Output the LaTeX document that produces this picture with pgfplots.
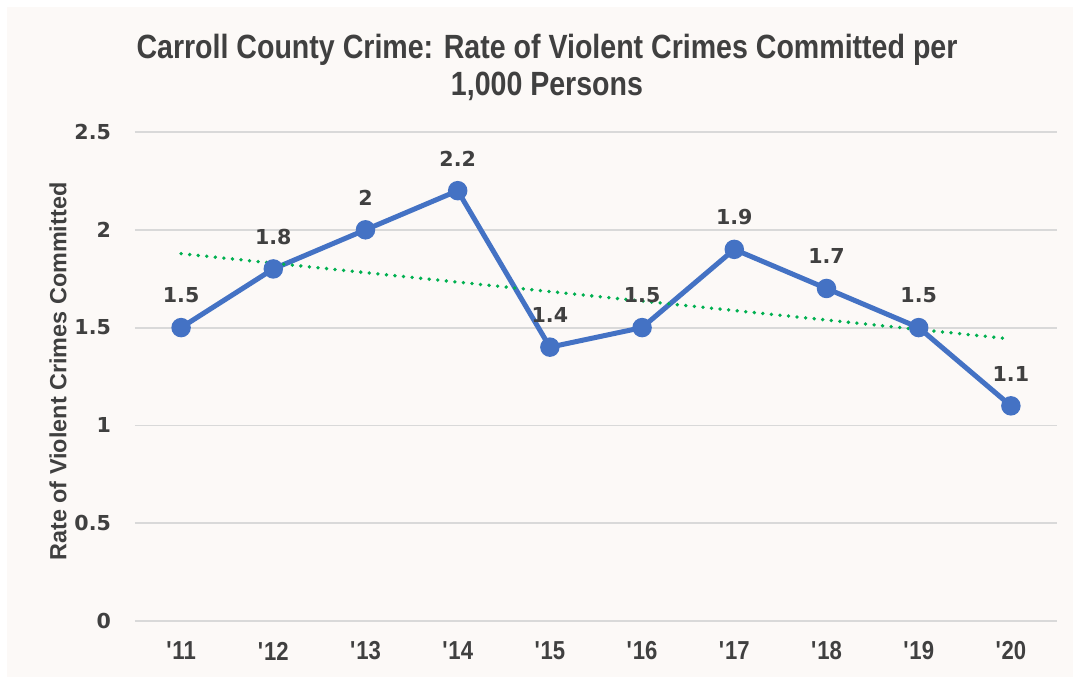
\documentclass[border=0pt]{standalone}
\usepackage{pgfplots}
\pgfplotsset{compat=1.18}
\usepackage{fontspec}
\setmainfont{DejaVu Sans}
\newfontfamily\titlefont[FakeStretch=0.85]{Liberation Sans}
\newfontfamily\labelfont{Liberation Sans}
\definecolor{bg}{HTML}{FCF9F7}
\definecolor{txt}{HTML}{404040}
\definecolor{gridc}{HTML}{D9D9D9}
\definecolor{lineblue}{HTML}{4472C4}
\definecolor{trend}{HTML}{00B050}
\begin{document}
\begin{tikzpicture}
\fill[white] (0,0) rectangle (536.5pt,338.5pt);
\fill[bg] (3.5pt,0) rectangle (536.5pt,335pt);
\path[use as bounding box] (0,0) rectangle (536.5pt,338.5pt);
\node[font=\titlefont\bfseries\fontsize{16.8}{18}\selectfont, text=txt, align=center] at (273.5pt,305pt) {Carroll County Crime: Rate of Violent Crimes Committed per\\[0.5pt]1,000 Persons};
\begin{axis}[
  at={(67.5pt,28pt)}, anchor=south west,
  scale only axis, width=461pt, height=244.5pt,
  xmin=-0.5, xmax=9.5, ymin=0, ymax=2.5,
  axis line style={draw=none},
  tick style={draw=none},
  ymajorgrids, grid style={gridc, line width=0.9pt},
  ytick={0,0.5,1,1.5,2,2.5},
  xtick={0,...,9},
  xticklabels={\textquotesingle 11,\textquotesingle 12,\textquotesingle 13,\textquotesingle 14,\textquotesingle 15,\textquotesingle 16,\textquotesingle 17,\textquotesingle 18,\textquotesingle 19,\textquotesingle 20},
  /pgf/number format/assume math mode=true,
  yticklabel style={font=\bfseries\fontsize{10.3}{12}\selectfont, text=txt, anchor=east, xshift=-8.5pt},
  xticklabel style={font=\titlefont\bfseries\fontsize{13}{15}\selectfont, text=txt, anchor=center, yshift=-15pt},
  ylabel={Rate of Violent Crimes Committed},
  every axis y label/.style={at={(axis description cs:-0.0835,0.51)}, rotate=90, anchor=center, font=\labelfont\bfseries\fontsize{11.7}{13}\selectfont, text=txt},
  clip=false,
]
\addplot[lineblue, line width=2.5pt, mark=*, mark size=3.6pt, mark options={fill=lineblue, draw=lineblue},
  nodes near coords, point meta=explicit symbolic,
  every node near coord/.style={font=\bfseries\fontsize{10.3}{12}\selectfont, text=txt, anchor=center, yshift=16pt}]
  coordinates {(0,1.5)[1.5] (1,1.8)[1.8] (2,2)[2] (3,2.2)[2.2] (4,1.4)[1.4] (5,1.5)[1.5] (6,1.9)[1.9] (7,1.7)[1.7] (8,1.5)[1.5] (9,1.1)[1.1]};
\addplot[trend, line width=1.9pt, line cap=round, dash pattern=on 0pt off 4.3pt] coordinates {(0,1.878) (9,1.442)};
\end{axis}
\end{tikzpicture}
\end{document}
